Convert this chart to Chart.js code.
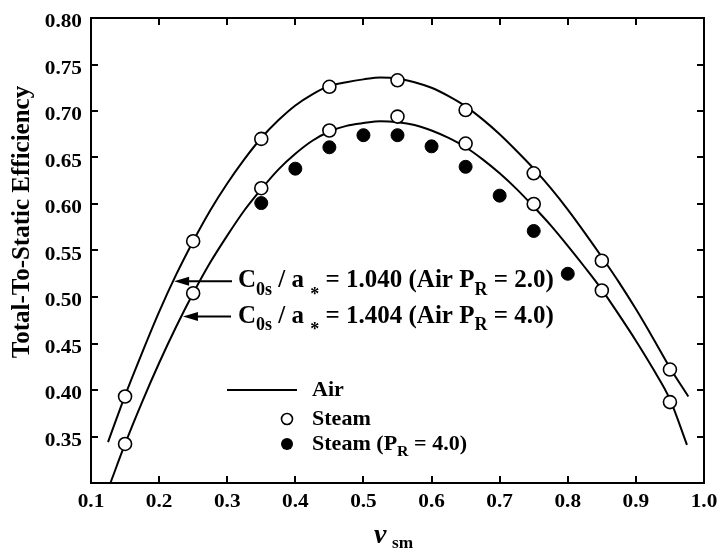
<!DOCTYPE html>
<html>
<head>
<meta charset="utf-8">
<script src="https://cdn.jsdelivr.net/npm/chart.js@4"></script>
<style>
  html, body { margin: 0; padding: 0; background: #fff; }
  #wrap { width: 717px; height: 550px; position: relative; }
</style>
</head>
<body>
<div id="wrap"><canvas id="chart"></canvas></div>
<script>
// Tick labels
const xTickValues = [0.1, 0.2, 0.3, 0.4, 0.5, 0.6, 0.7, 0.8, 0.9, 1.0];
const xTickLabels = ['0.1', '0.2', '0.3', '0.4', '0.5', '0.6', '0.7', '0.8', '0.9', '1.0'];
const yTickValues = [0.35, 0.40, 0.45, 0.50, 0.55, 0.60, 0.65, 0.70, 0.75, 0.80];
const yTickLabels = ['0.35', '0.40', '0.45', '0.50', '0.55', '0.60', '0.65', '0.70', '0.75', '0.80'];

// Air curve, C0s/a* = 1.040 (PR = 2.0)
const airHighVsm = [0.125, 0.15, 0.175, 0.2, 0.225, 0.25, 0.275, 0.3, 0.325, 0.35, 0.375, 0.4, 0.425, 0.45, 0.475, 0.5, 0.525, 0.55, 0.575, 0.6, 0.625, 0.65, 0.675, 0.7, 0.725, 0.75, 0.775, 0.8, 0.825, 0.85, 0.875, 0.9, 0.925, 0.95, 0.977];
const airHigh    = [0.344, 0.394, 0.440, 0.484, 0.524, 0.560, 0.593, 0.622, 0.648, 0.671, 0.690, 0.706, 0.718, 0.727, 0.731, 0.734, 0.736, 0.735, 0.731, 0.725, 0.716, 0.705, 0.691, 0.675, 0.657, 0.638, 0.617, 0.594, 0.569, 0.543, 0.516, 0.487, 0.456, 0.424, 0.393];

// Air curve, C0s/a* = 1.404 (PR = 4.0)
const airLowVsm = [0.128, 0.15, 0.175, 0.2, 0.225, 0.25, 0.275, 0.3, 0.325, 0.35, 0.375, 0.4, 0.425, 0.45, 0.475, 0.5, 0.525, 0.55, 0.575, 0.6, 0.625, 0.65, 0.675, 0.7, 0.725, 0.75, 0.775, 0.8, 0.825, 0.85, 0.875, 0.9, 0.925, 0.95, 0.975];
const airLow    = [0.299, 0.342, 0.387, 0.429, 0.468, 0.504, 0.537, 0.566, 0.593, 0.616, 0.637, 0.654, 0.668, 0.678, 0.684, 0.687, 0.689, 0.688, 0.685, 0.679, 0.671, 0.661, 0.648, 0.633, 0.616, 0.597, 0.577, 0.555, 0.532, 0.508, 0.481, 0.453, 0.423, 0.390, 0.341];

// Steam, open symbols
const steamVsm  = [0.15, 0.25, 0.35, 0.45, 0.55, 0.65, 0.75, 0.85, 0.95];
const steamHigh = [0.393, 0.560, 0.670, 0.726, 0.733, 0.701, 0.633, 0.539, 0.422];
const steamLow  = [0.342, 0.504, 0.617, 0.679, 0.694, 0.665, 0.600, 0.507, 0.387];

// Steam at PR = 4.0, filled symbols
const steamPr4Vsm = [0.35, 0.40, 0.45, 0.50, 0.55, 0.60, 0.65, 0.70, 0.75, 0.80];
const steamPr4    = [0.601, 0.638, 0.661, 0.674, 0.674, 0.662, 0.640, 0.609, 0.571, 0.525];

const pts = (xs, ys) => xs.map((x, i) => ({ x: x, y: ys[i] }));

const SERIF = '"Liberation Serif", "Times New Roman", serif';

// Draws a run of text pieces, some as subscripts, with optional horizontal stretch
function drawRich(ctx, x, y, parts, size, sx, align) {
  ctx.save();
  let total = 0;
  const widths = parts.map(p => {
    ctx.font = 'bold ' + (p.sub ? size * 0.72 : size) + 'px ' + SERIF;
    const w = ctx.measureText(p.t).width;
    total += w;
    return w;
  });
  ctx.translate(x, y);
  ctx.scale(sx, 1);
  let cx = align === 'center' ? -total / 2 : (align === 'right' ? -total : 0);
  ctx.textBaseline = 'alphabetic';
  ctx.textAlign = 'left';
  parts.forEach((p, i) => {
    ctx.font = 'bold ' + (p.sub ? size * 0.72 : size) + 'px ' + SERIF;
    ctx.fillText(p.t, cx, p.sub ? size * (p.dy || 0.3) : 0);
    cx += widths[i];
  });
  ctx.restore();
}

function arrowLeft(ctx, tipX, y, tailX) {
  ctx.save();
  ctx.strokeStyle = '#000';
  ctx.fillStyle = '#000';
  ctx.lineWidth = 2;
  ctx.beginPath();
  ctx.moveTo(tailX, y);
  ctx.lineTo(tipX + 12, y);
  ctx.stroke();
  ctx.beginPath();
  ctx.moveTo(tipX, y);
  ctx.lineTo(tipX + 15, y - 4.5);
  ctx.lineTo(tipX + 15, y + 4.5);
  ctx.closePath();
  ctx.fill();
  ctx.restore();
}

const framePlugin = {
  id: 'frameAxes',
  afterDatasetsDraw(chart) {
    const ctx = chart.ctx;
    const xs = chart.scales.x, ys = chart.scales.y;
    const a = chart.chartArea;
    ctx.save();
    ctx.fillStyle = '#000';
    ctx.strokeStyle = '#000';

    // frame
    ctx.lineWidth = 2;
    ctx.strokeRect(a.left, a.top, a.right - a.left, a.bottom - a.top);

    // inward tick marks on all four sides
    ctx.beginPath();
    xTickValues.forEach(v => {
      const px = Math.round(xs.getPixelForValue(v));
      if (px <= a.left + 1 || px >= a.right - 1) return;
      ctx.moveTo(px, a.bottom); ctx.lineTo(px, a.bottom - 7);
      ctx.moveTo(px, a.top); ctx.lineTo(px, a.top + 7);
    });
    yTickValues.forEach(v => {
      const py = Math.round(ys.getPixelForValue(v));
      if (py <= a.top + 1 || py >= a.bottom - 1) return;
      ctx.moveTo(a.left, py); ctx.lineTo(a.left + 7, py);
      ctx.moveTo(a.right, py); ctx.lineTo(a.right - 7, py);
    });
    ctx.stroke();

    // tick labels
    xTickValues.forEach((v, i) => {
      drawRich(ctx, xs.getPixelForValue(v), a.bottom + 24, [{ t: xTickLabels[i] }], 19, 1.12, 'center');
    });
    yTickValues.forEach((v, i) => {
      drawRich(ctx, a.left - 9, ys.getPixelForValue(v) + 9, [{ t: yTickLabels[i] }], 19, 1.12, 'right');
    });

    // y axis title
    ctx.save();
    ctx.translate(29, 222);
    ctx.rotate(-Math.PI / 2);
    ctx.font = 'bold 25px ' + SERIF;
    ctx.textAlign = 'center';
    ctx.textBaseline = 'alphabetic';
    ctx.fillText('Total-To-Static Efficiency', 0, 0);
    ctx.restore();

    // x axis title
    ctx.save();
    ctx.font = 'italic bold 28px ' + SERIF;
    ctx.textBaseline = 'alphabetic';
    ctx.fillText('ν', 374, 543);
    ctx.restore();
    drawRich(ctx, 392, 543, [{ t: 'sm', sub: true, dy: 0.2 }], 24, 1.0, 'left');

    // annotations for the two air curves
    const tip1x = xs.getPixelForValue(0.222), tip1y = ys.getPixelForValue(0.517);
    const tip2x = xs.getPixelForValue(0.235), tip2y = ys.getPixelForValue(0.479);
    arrowLeft(ctx, tip1x, tip1y, 232);
    arrowLeft(ctx, tip2x, tip2y, 231);
    drawRich(ctx, 238, tip1y + 6, [
      { t: 'C' }, { t: '0s', sub: true }, { t: ' / a ' }, { t: '*', sub: true, dy: 0.5 },
      { t: ' = 1.040 (Air P' }, { t: 'R', sub: true }, { t: ' = 2.0)' }
    ], 25, 1.0, 'left');
    drawRich(ctx, 238, tip2y + 6, [
      { t: 'C' }, { t: '0s', sub: true }, { t: ' / a ' }, { t: '*', sub: true, dy: 0.5 },
      { t: ' = 1.404 (Air P' }, { t: 'R', sub: true }, { t: ' = 4.0)' }
    ], 25, 1.0, 'left');

    // legend
    ctx.lineWidth = 2;
    ctx.beginPath();
    ctx.moveTo(227, 390); ctx.lineTo(297, 390);
    ctx.stroke();
    drawRich(ctx, 312, 396, [{ t: 'Air' }], 21, 1.05, 'left');

    ctx.beginPath();
    ctx.arc(287, 419, 5.5, 0, Math.PI * 2);
    ctx.fillStyle = '#fff';
    ctx.fill();
    ctx.lineWidth = 1.6;
    ctx.stroke();
    ctx.fillStyle = '#000';
    drawRich(ctx, 312, 425, [{ t: 'Steam' }], 21, 1.05, 'left');

    ctx.beginPath();
    ctx.arc(287, 444, 6, 0, Math.PI * 2);
    ctx.fill();
    drawRich(ctx, 312, 450, [{ t: 'Steam (P' }, { t: 'R', sub: true }, { t: ' = 4.0)' }], 21, 1.05, 'left');

    ctx.restore();
  }
};

const openPoint = {
  showLine: false, pointStyle: 'circle', pointRadius: 6.5, pointHoverRadius: 6.5,
  pointBackgroundColor: '#fff', pointBorderColor: '#000', pointBorderWidth: 1.6
};
const curve = {
  showLine: true, pointRadius: 0, pointHoverRadius: 0, borderColor: '#000',
  borderWidth: 2, cubicInterpolationMode: 'monotone', fill: false
};

new Chart(document.getElementById('chart'), {
  type: 'scatter',
  data: {
    datasets: [
      Object.assign({ label: 'Steam', data: pts(steamVsm, steamHigh) }, openPoint),
      Object.assign({ label: 'Steam', data: pts(steamVsm, steamLow) }, openPoint),
      { label: 'Steam (PR = 4.0)', data: pts(steamPr4Vsm, steamPr4), showLine: false,
        pointStyle: 'circle', pointRadius: 6.5, pointHoverRadius: 6.5,
        pointBackgroundColor: '#000', pointBorderColor: '#000', pointBorderWidth: 1 },
      Object.assign({ label: 'Air', data: pts(airHighVsm, airHigh) }, curve),
      Object.assign({ label: 'Air', data: pts(airLowVsm, airLow) }, curve)
    ]
  },
  options: {
    responsive: true,
    maintainAspectRatio: false,
    animation: false,
    events: [],
    layout: { padding: { left: 91, right: 13, top: 18, bottom: 67 } },
    plugins: { legend: { display: false }, tooltip: { enabled: false } },
    scales: {
      x: { type: 'linear', min: 0.1, max: 1.0, display: false },
      y: { type: 'linear', min: 0.30, max: 0.80, display: false }
    }
  },
  plugins: [framePlugin]
});
</script>
</body>
</html>
